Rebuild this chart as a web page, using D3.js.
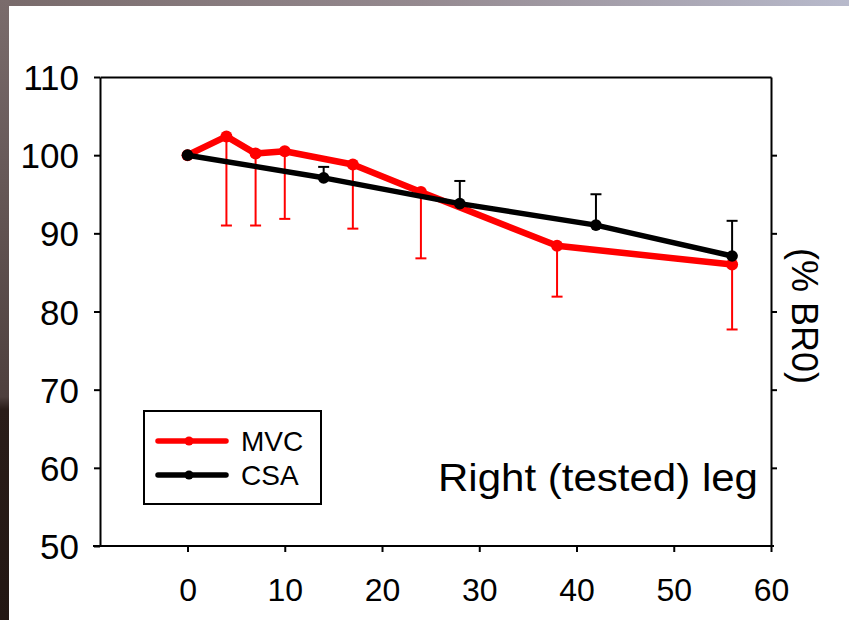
<!DOCTYPE html>
<html>
<head>
<meta charset="utf-8">
<script src="https://cdn.jsdelivr.net/npm/d3@7"></script>
<style>
  html, body { margin: 0; padding: 0; background: #fff; }
  svg { display: block; }
  text { font-family: "Liberation Sans", Arial, sans-serif; fill: #000; }
</style>
</head>
<body>
<svg id="chart" width="849" height="620"></svg>
<script>
// Days since baseline, MVC series (red)
const mvcDays = [0, 4, 7, 10, 17, 24, 38, 56];
const mvcValues = [100, 102.4, 100.2, 100.5, 98.8, 95.3, 88.4, 86.0];
const mvcErr = [0, 11.4, 9.2, 8.65, 8.2, 8.5, 6.5, 8.3];   // drawn downward

// Days since baseline, CSA series (black)
const csaDays = [0, 14, 28, 42, 56];
const csaValues = [100, 97.1, 93.8, 91.05, 87.1];
const csaErr = [0, 1.4, 2.9, 3.95, 4.5];                   // drawn upward

const xTicks = [0, 10, 20, 30, 40, 50, 60];
const yTicks = [50, 60, 70, 80, 90, 100, 110];
const seriesNames = ["MVC", "CSA"];
const seriesColors = ["#ff0000", "#000000"];

const svg = d3.select("#chart");

// slide frame: gradient strips along the top and left edges
const defs = svg.append("defs");
const gTop = defs.append("linearGradient").attr("id", "gTop")
  .attr("x1", "0").attr("x2", "1").attr("y1", "0").attr("y2", "0");
gTop.append("stop").attr("offset", "0").attr("stop-color", "#786a6a");
gTop.append("stop").attr("offset", "0.5").attr("stop-color", "#958a90");
gTop.append("stop").attr("offset", "1").attr("stop-color", "#b8bacc");
const gLeft = defs.append("linearGradient").attr("id", "gLeft")
  .attr("x1", "0").attr("x2", "0").attr("y1", "0").attr("y2", "1");
gLeft.append("stop").attr("offset", "0").attr("stop-color", "#7a6c6c");
gLeft.append("stop").attr("offset", "0.64").attr("stop-color", "#4e403e");
gLeft.append("stop").attr("offset", "0.66").attr("stop-color", "#2a1d19");
gLeft.append("stop").attr("offset", "1").attr("stop-color", "#231713");

svg.append("rect").attr("width", 849).attr("height", 620).attr("fill", "#fff");
svg.append("rect").attr("x", 0).attr("y", 0).attr("width", 849).attr("height", 6).attr("fill", "url(#gTop)");
svg.append("rect").attr("x", 0).attr("y", 0).attr("width", 9).attr("height", 620).attr("fill", "url(#gLeft)");

// scales
const x = d3.scaleLinear().domain([-9, 60]).range([100, 771]);
const y = d3.scaleLinear().domain([50, 110]).range([546, 77]);

const axisStyle = g => {
  g.selectAll(".domain").attr("stroke", "#000").attr("stroke-width", 2);
  g.selectAll(".tick line").attr("stroke", "#000").attr("stroke-width", 2);
};

// left axis
svg.append("g").attr("transform", `translate(${x(-9)},0)`)
  .call(d3.axisLeft(y).tickValues(yTicks).tickSize(6).tickSizeOuter(0).tickPadding(15).tickFormat(d3.format("d")))
  .call(axisStyle)
  .call(g => g.selectAll("text").attr("font-size", 35).attr("dy", "0.36em")
    .style("font-family", '"Liberation Sans", Arial, sans-serif'));

// right axis (ticks only)
svg.append("g").attr("transform", `translate(${x(60)},0)`)
  .call(d3.axisRight(y).tickValues(yTicks.slice(1, -1)).tickSize(6).tickSizeOuter(0).tickFormat(""))
  .call(axisStyle);

// top frame line
svg.append("g").attr("transform", `translate(0,${y(110)})`)
  .call(d3.axisTop(x).tickValues([]).tickSizeOuter(0))
  .call(axisStyle);

// bottom axis
svg.append("g").attr("transform", `translate(0,${y(50)})`)
  .call(d3.axisBottom(x).tickValues(xTicks).tickSize(6).tickSizeOuter(0).tickPadding(26).tickFormat(d3.format("d")))
  .call(axisStyle)
  .call(g => g.select(".domain").attr("d", `M${x(-9) - 7},0H${x(60) + 3}`))
  .call(g => g.selectAll("text").attr("font-size", 32)
    .style("font-family", '"Liberation Sans", Arial, sans-serif'));

const line = d3.line().x(d => x(d[0])).y(d => y(d[1]));

// error bars
function errorBars(days, vals, errs, dir, color) {
  const g = svg.append("g").attr("stroke", color).attr("stroke-width", 2).attr("fill", "none");
  days.forEach((d, i) => {
    if (!errs[i]) return;
    const end = vals[i] + dir * errs[i];
    g.append("line").attr("x1", x(d)).attr("x2", x(d)).attr("y1", y(vals[i])).attr("y2", y(end));
    g.append("line").attr("x1", x(d) - 5.5).attr("x2", x(d) + 5.5).attr("y1", y(end)).attr("y2", y(end));
  });
}
errorBars(mvcDays, mvcValues, mvcErr, -1, seriesColors[0]);
errorBars(csaDays, csaValues, csaErr, +1, seriesColors[1]);

// MVC line and markers
svg.append("path").datum(mvcDays.map((d, i) => [d, mvcValues[i]]))
  .attr("d", line).attr("fill", "none").attr("stroke", seriesColors[0])
  .attr("stroke-width", 6.5).attr("stroke-linejoin", "round");
svg.append("g").selectAll("circle").data(mvcDays).join("circle")
  .attr("cx", d => x(d)).attr("cy", (d, i) => y(mvcValues[i])).attr("r", 6)
  .attr("fill", seriesColors[0]);

// CSA line and markers
svg.append("path").datum(csaDays.map((d, i) => [d, csaValues[i]]))
  .attr("d", line).attr("fill", "none").attr("stroke", seriesColors[1])
  .attr("stroke-width", 5.5).attr("stroke-linejoin", "round");
svg.append("g").selectAll("circle").data(csaDays).join("circle")
  .attr("cx", d => x(d)).attr("cy", (d, i) => y(csaValues[i])).attr("r", 5.8)
  .attr("fill", seriesColors[1]);

// legend
const legend = svg.append("g");
legend.append("rect").attr("x", 144).attr("y", 411).attr("width", 177).attr("height", 93)
  .attr("fill", "#fff").attr("stroke", "#000").attr("stroke-width", 2);
seriesNames.forEach((name, i) => {
  const ly = 441 + i * 34;
  legend.append("line").attr("x1", 158).attr("x2", 226).attr("y1", ly).attr("y2", ly)
    .attr("stroke", seriesColors[i]).attr("stroke-width", 5.5).attr("stroke-linecap", "round");
  legend.append("circle").attr("cx", 189).attr("cy", ly).attr("r", 4.5).attr("fill", seriesColors[i]);
  legend.append("text").attr("x", 241).attr("y", ly + 10).attr("font-size", 28).text(name);
});

// panel caption
svg.append("text").attr("x", 438).attr("y", 490.5).attr("font-size", 39)
  .attr("textLength", 320).attr("lengthAdjust", "spacingAndGlyphs")
  .text("Right (tested) leg");

// right-hand axis title
svg.append("text").attr("transform", "translate(792,316) rotate(90)")
  .attr("text-anchor", "middle").attr("font-size", 36).text("(% BR0)");
</script>
</body>
</html>
